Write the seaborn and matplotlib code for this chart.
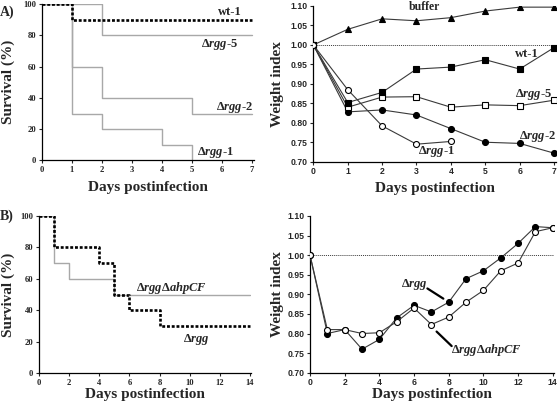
import numpy as np
import pandas as pd
import matplotlib
matplotlib.use('Agg')
import matplotlib.pyplot as plt
import seaborn as sns

# ==========================================
# DANE
# ==========================================
# A) przezywalnosc (punkty schodkow)
surv_a_wt1_days = [0, 1, 7]
surv_a_wt1 = [100, 90, 90]
surv_a_rgg5_days = [0, 2, 7]
surv_a_rgg5 = [100, 80, 80]
surv_a_rgg2_days = [0, 1, 2, 5, 7]
surv_a_rgg2 = [100, 60, 40, 30, 30]
surv_a_rgg1_days = [0, 1, 2, 4, 5]
surv_a_rgg1 = [100, 30, 20, 10, 0]

# A) weight index
days_a = [0, 1, 2, 3, 4, 5, 6, 7]
w_buffer = [1.00, 1.040, 1.067, 1.062, 1.070, 1.087, 1.097, 1.097]
w_wt1 = [1.00, 0.852, 0.878, 0.938, 0.943, 0.962, 0.938, 0.993]
w_rgg5 = [1.00, 0.840, 0.866, 0.867, 0.840, 0.846, 0.844, 0.858]
w_rgg2 = [1.00, 0.828, 0.833, 0.820, 0.785, 0.750, 0.747, 0.722]
days_a_rgg1 = [0, 1, 2, 3, 4]
w_rgg1 = [1.00, 0.885, 0.792, 0.745, 0.752]

# B) przezywalnosc
surv_b_rgg_days = [0, 1, 4, 5, 6, 8, 14]
surv_b_rgg = [100, 80, 70, 50, 40, 30, 30]
surv_b_ahp_days = [0, 1, 2, 5, 14]
surv_b_ahp = [100, 70, 60, 50, 50]

# B) weight index
days_b = list(range(15))
w_b_rgg = [1.00, 0.800, 0.810, 0.760, 0.785, 0.840, 0.872, 0.855, 0.880, 0.940,
           0.960, 0.993, 1.030, 1.073, 1.070]
w_b_ahp = [1.00, 0.810, 0.810, 0.800, 0.802, 0.830, 0.865, 0.823, 0.842, 0.880,
           0.910, 0.960, 0.980, 1.060, 1.070]

# ==========================================
# STYL
# ==========================================
sns.set_style('ticks')
plt.rcParams['font.family'] = ['Liberation Serif', 'DejaVu Serif']
plt.rcParams['font.weight'] = 'bold'
plt.rcParams['mathtext.fontset'] = 'custom'
plt.rcParams['mathtext.it'] = 'Liberation Serif:bold:italic'
plt.rcParams['mathtext.rm'] = 'Liberation Serif:bold'
plt.rcParams['mathtext.bf'] = 'Liberation Serif:bold'

SERIF = dict(family='Liberation Serif', weight='bold')
SANS = dict(family='Liberation Sans', weight='bold')
GRAY = '#a8a8a8'
DOT = (0, (1.1, 0.7))
LINE = '#3a3a3a'
ANN = 9

fig = plt.figure(figsize=(5.6, 4.07), dpi=100)
ax_a1 = fig.add_axes([0.0745, 0.6057, 0.3793, 0.3845])
ax_a2 = fig.add_axes([0.5595, 0.6027, 0.4329, 0.3826])
ax_b1 = fig.add_axes([0.0696, 0.0828, 0.3795, 0.3865])
ax_b2 = fig.add_axes([0.5536, 0.0843, 0.4350, 0.3850])


def survival(ax, x, y, dotted=False):
    if dotted:
        sns.lineplot(x=x, y=y, ax=ax, drawstyle='steps-post', color='black',
                     lw=1.9, linestyle=DOT, estimator=None, zorder=3)
    else:
        sns.lineplot(x=x, y=y, ax=ax, drawstyle='steps-post', color=GRAY,
                     lw=1.0, estimator=None, zorder=2)


def weight(ax, x, y, marker, filled):
    sns.lineplot(x=x, y=y, ax=ax, color=LINE, lw=0.8, marker=marker,
                 markersize=4.3, markerfacecolor='black' if filled else 'white',
                 markeredgecolor='black', markeredgewidth=0.8, estimator=None,
                 zorder=3)


def style_axes(ax, font, xmax, xstep, ylim, yticks, yfmt):
    ax.set_xlim(0, xmax)
    ax.set_ylim(*ylim)
    ax.set_xticks(np.arange(0, int(xmax) + 1, xstep))
    ax.set_yticks(yticks)
    ax.set_yticklabels([yfmt.format(v) for v in yticks], fontdict=dict(size=6.2, **font))
    ax.set_xticklabels([str(v) for v in ax.get_xticks()], fontdict=dict(size=6.2, **font))
    ax.tick_params(direction='out', length=2.5, width=0.8, pad=1.5)
    sns.despine(ax=ax)
    for s in ['left', 'bottom']:
        ax.spines[s].set_linewidth(0.9)
        ax.spines[s].set_color('black')
    ax.set_xlabel('Days postinfection', size=11, **SERIF)


# ==========================================
# A) lewy - przezywalnosc
# ==========================================
survival(ax_a1, surv_a_rgg1_days, surv_a_rgg1)
survival(ax_a1, surv_a_rgg2_days, surv_a_rgg2)
survival(ax_a1, surv_a_rgg5_days, surv_a_rgg5)
survival(ax_a1, surv_a_wt1_days, surv_a_wt1, dotted=True)
style_axes(ax_a1, SERIF, 7.07, 1, (0, 100), [0, 20, 40, 60, 80, 100], '{:d}')
ax_a1.set_ylabel('Survival (%)', size=11, **SERIF)
ax_a1.text(6.27, 95, 'wt-1', ha='center', va='center', size=ANN, **SERIF)
ax_a1.text(5.93, 74, r'Δ$\mathit{rgg}$-5', ha='center', va='center', size=ANN, **SERIF)
ax_a1.text(6.43, 34, r'Δ$\mathit{rgg}$-2', ha='center', va='center', size=ANN, **SERIF)
ax_a1.text(5.77, 5, r'Δ$\mathit{rgg}$-1', ha='center', va='center', size=ANN, **SERIF)

# ==========================================
# A) prawy - weight index
# ==========================================
ax_a2.axhline(1.0, color=LINE, lw=0.7, linestyle=(0, (1, 1)), zorder=1)
weight(ax_a2, days_a, w_buffer, '^', True)
weight(ax_a2, days_a, w_rgg2, 'o', True)
weight(ax_a2, days_a, w_rgg5, 's', False)
weight(ax_a2, days_a, w_wt1, 's', True)
weight(ax_a2, days_a_rgg1, w_rgg1, 'o', False)
style_axes(ax_a2, SANS, 7.05, 1, (0.70, 1.10),
           [0.70, 0.75, 0.80, 0.85, 0.90, 0.95, 1.00, 1.05, 1.10], '{:.2f}')
ax_a2.set_ylabel('Weight index', size=11, **SERIF)
ax_a2.text(3.22, 1.097, 'buffer', ha='center', va='center', size=8.5, **SERIF)
ax_a2.text(6.2, 0.977, 'wt-1', ha='center', va='center', size=ANN, **SERIF)
ax_a2.text(6.4, 0.873, r'Δ$\mathit{rgg}$-5', ha='center', va='center', size=ANN, **SERIF)
ax_a2.text(6.52, 0.764, r'Δ$\mathit{rgg}$-2', ha='center', va='center', size=ANN, **SERIF)
ax_a2.text(3.59, 0.725, r'Δ$\mathit{rgg}$-1', ha='center', va='center', size=ANN, **SERIF)

# ==========================================
# B) lewy - przezywalnosc
# ==========================================
survival(ax_b1, surv_b_ahp_days, surv_b_ahp)
survival(ax_b1, surv_b_rgg_days, surv_b_rgg, dotted=True)
style_axes(ax_b1, SERIF, 14.1, 2, (0, 100), [0, 20, 40, 60, 80, 100], '{:d}')
ax_b1.set_ylabel('Survival (%)', size=11, **SERIF)
ax_b1.text(8.8, 54.4, r'Δ$\mathit{rgg}$Δ$\mathit{ahpCF}$', ha='center', va='center',
           size=ANN, **SERIF)
ax_b1.text(10.45, 21.2, r'Δ$\mathit{rgg}$', ha='center', va='center', size=ANN, **SERIF)

# ==========================================
# B) prawy - weight index
# ==========================================
ax_b2.axhline(1.0, color=LINE, lw=0.7, linestyle=(0, (1, 1)), zorder=1)
weight(ax_b2, days_b, w_b_rgg, 'o', True)
weight(ax_b2, days_b, w_b_ahp, 'o', False)
style_axes(ax_b2, SANS, 14.05, 2, (0.70, 1.10),
           [0.70, 0.75, 0.80, 0.85, 0.90, 0.95, 1.00, 1.05, 1.10], '{:.2f}')
ax_b2.set_ylabel('Weight index', size=11, **SERIF)
ax_b2.text(6.05, 0.926, r'Δ$\mathit{rgg}$', ha='center', va='center', size=ANN, **SERIF)
ax_b2.plot([6.77, 7.69], [0.915, 0.889], color='black', lw=1.6)
ax_b2.text(10.17, 0.758, r'Δ$\mathit{rgg}$Δ$\mathit{ahpCF}$', ha='center', va='center',
           size=ANN, **SERIF)
ax_b2.plot([7.3, 8.17], [0.805, 0.768], color='black', lw=1.6)

# pozycje podpisow osi
for ax, xl, yl in [(ax_a1, -0.13, -0.126), (ax_a2, -0.13, -0.121),
                   (ax_b1, -0.095, -0.113), (ax_b2, -0.095, -0.107)]:
    ax.xaxis.set_label_coords(0.5, xl)
    ax.yaxis.set_label_coords(yl, 0.5)

fig.text(0.0, 1 - 12 / 407, 'A)', ha='left', va='center', size=10, **SERIF)
fig.text(0.0, 1 - 216 / 407, 'B)', ha='left', va='center', size=10, **SERIF)

fig.savefig('out.png', dpi=100)
